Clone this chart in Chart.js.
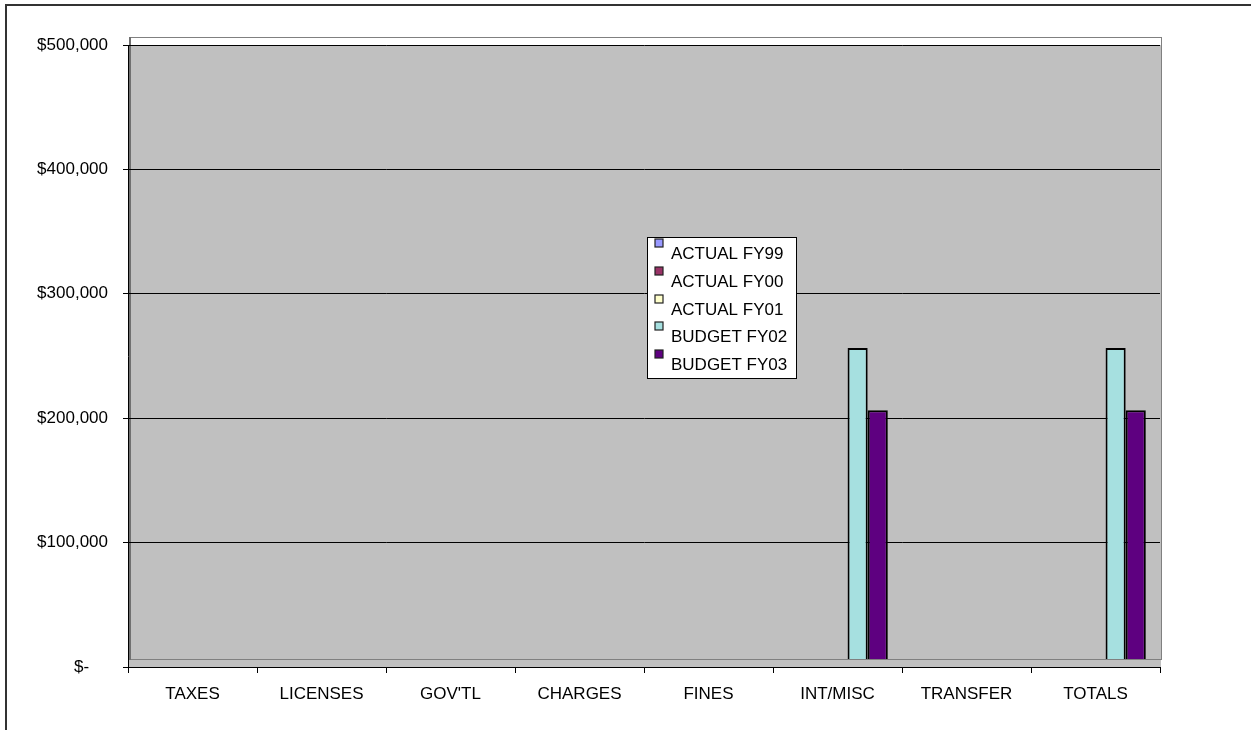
<!DOCTYPE html>
<html>
<head>
<meta charset="utf-8">
<script src="https://cdn.jsdelivr.net/npm/chart.js@4.4.1/dist/chart.umd.min.js"></script>
<style>
  body { margin: 0; background: #fff; }
  #wrap { width: 1251px; height: 730px; }
</style>
</head>
<body>
<div id="wrap"><canvas id="RevenueCanvas" width="1251" height="730"></canvas></div>
<script>
// Chart data (blank cells = null)
const categories = ['TAXES', 'LICENSES', "GOV'TL", 'CHARGES', 'FINES', 'INT/MISC', 'TRANSFER', 'TOTALS'];
const seriesNames = ['ACTUAL FY99', 'ACTUAL FY00', 'ACTUAL FY01', 'BUDGET FY02', 'BUDGET FY03'];
const seriesColors = ['#9999FF', '#993366', '#FFFFCC', '#A6E0E0', '#5E0080'];
const actualFY99 = [null, null, null, null, null, null, null, null];
const actualFY00 = [null, null, null, null, null, null, null, null];
const actualFY01 = [null, null, null, null, null, null, null, null];
const budgetFY02 = [null, null, null, null, null, 250000, null, 250000];
const budgetFY03 = [null, null, null, null, null, 200000, null, 200000];
const yMax = 500000;
const yStep = 100000;

const seriesValues = [actualFY99, actualFY00, actualFY01, budgetFY02, budgetFY03];

Chart.defaults.font.family = '"Liberation Sans", Arial, sans-serif';
Chart.defaults.font.size = 17;
Chart.defaults.color = '#000';

// Excel style 3D depth: the back wall sits a few pixels up/right of the axes
const DEPTH = 8;

//Gray wall + floor behind the bars
const wallPlugin = {
    id: 'wall',
    beforeDraw(chart) {
        const ctx = chart.ctx;
        const a = chart.chartArea;
        ctx.save();
        ctx.fillStyle = '#C0C0C0';
        ctx.fillRect(a.left, a.top, a.right - a.left + 1, a.bottom - a.top);
        ctx.strokeStyle = '#808080';
        ctx.lineWidth = 1;
        ctx.strokeRect(a.left + 2.5, a.top - DEPTH + 0.5, a.right - a.left - 1, a.bottom - a.top);
        // darker left edge of the wall
        ctx.lineWidth = 2;
        ctx.strokeStyle = '#707070';
        ctx.beginPath();
        ctx.moveTo(a.left + 2, a.top - DEPTH);
        ctx.lineTo(a.left + 2, a.bottom - DEPTH + 1);
        ctx.stroke();
        ctx.restore();
    }
};

//Legend box in the middle of the plot + outer frame
const legendPlugin = {
    id: 'boxLegend',
    afterDraw(chart) {
        const ctx = chart.ctx;
        ctx.save();
        const bx = 647.5, by = 237.5, bw = 149, bh = 141, rowH = 27.8;
        ctx.fillStyle = '#fff';
        ctx.fillRect(bx, by, bw, bh);
        ctx.strokeStyle = '#000';
        ctx.lineWidth = 1;
        ctx.strokeRect(bx, by, bw, bh);
        ctx.font = '17px "Liberation Sans", Arial, sans-serif';
        ctx.textBaseline = 'alphabetic';
        ctx.textAlign = 'left';
        chart.data.datasets.forEach((ds, i) => {
            const y = by + 1.5 + Math.round(i * rowH);
            ctx.fillStyle = ds.backgroundColor;
            ctx.fillRect(bx + 7.5, y, 8, 8);
            ctx.strokeStyle = '#222';
            ctx.lineWidth = 1.2;
            ctx.strokeRect(bx + 7.5, y, 8, 8);
            ctx.fillStyle = '#000';
            ctx.fillText(ds.label, bx + 23.5, y + 20);
        });

        ctx.strokeStyle = '#333';
        ctx.lineWidth = 2;
        ctx.beginPath();
        ctx.moveTo(6, 730);
        ctx.lineTo(6, 5);
        ctx.lineTo(1251, 5);
        ctx.stroke();
        ctx.restore();
    }
};

const depthValue = DEPTH / 622 * yMax;

new Chart(
    document.getElementById('RevenueCanvas'),
    {
        type: 'bar',
        data: {
            labels: categories,
            datasets: seriesNames.map((name, i) => ({
                label: name,
                data: seriesValues[i],
                backgroundColor: seriesColors[i],
                borderColor: '#000',
                borderWidth: 2,
                yAxisID: 'yBars',
                categoryPercentage: 0.78,
                barPercentage: 1
            }))
        },
        options: {
            responsive: false,
            devicePixelRatio: 1,
            animation: false,
            layout: {padding: {top: 45, right: 91, left: 0, bottom: 0}},
            plugins: {
                legend: {display: false},
                tooltip: {enabled: false}
            },
            scales: {
                x: {
                    grid: {
                        display: true,
                        drawOnChartArea: false,
                        drawTicks: true,
                        tickLength: 6,
                        color: '#000',
                        offset: true
                    },
                    border: {display: true, color: '#000', width: 1},
                    ticks: {padding: 11, maxRotation: 0, autoSkip: false},
                    afterFit: (scale) => { scale.height = 63; }
                },
                y: {
                    min: 0,
                    max: yMax,
                    grid: {color: '#000', tickLength: 5, tickColor: '#000'},
                    border: {display: true, color: '#000', width: 1},
                    ticks: {
                        stepSize: yStep,
                        padding: 15,
                        callback: (value) => value === 0
                            ? '$-    '
                            : '$' + String(value).replace(/\B(?=(\d{3})+(?!\d))/g, ',')
                    },
                    afterFit: (scale) => { scale.width = 128; }
                },
                // same scale as y, but with the base raised to the back wall floor
                yBars: {
                    display: false,
                    min: -depthValue,
                    max: yMax - depthValue
                }
            }
        },
        plugins: [wallPlugin, legendPlugin]
    }
);
</script>
</body>
</html>
